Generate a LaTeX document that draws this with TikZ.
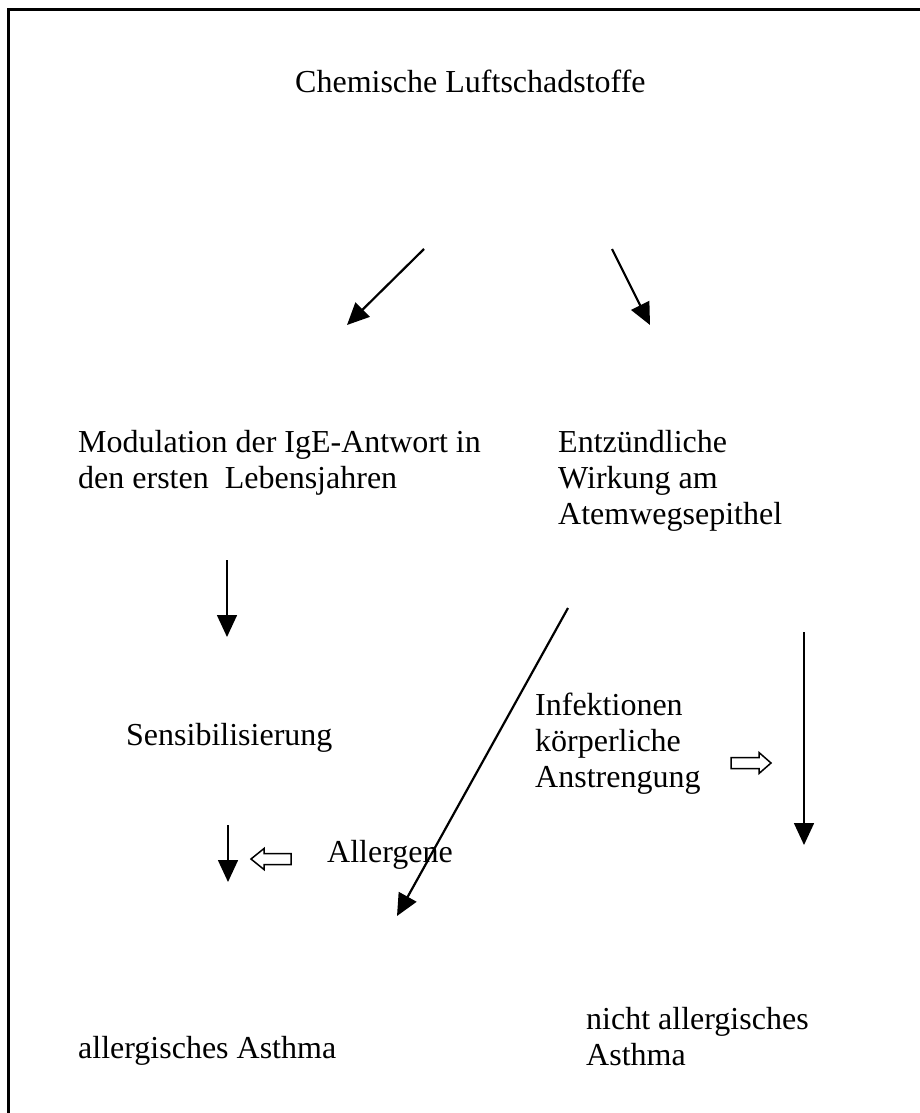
\documentclass[tikz,border=0pt]{standalone}
\usepackage{fontspec}
\setmainfont{Liberation Serif}
\usetikzlibrary{arrows.meta}
\begin{document}
\begin{tikzpicture}[x=1pt,y=-1pt,
  lbl/.style={anchor=base west,inner sep=0pt,font=\fontsize{32}{36}\selectfont},
  arr/.style={line width=2.2pt,-{Triangle[length=22pt,width=20pt]}},
  varr/.style={line width=1.6pt,-{Triangle[length=22pt,width=20pt]}},
  hollow/.style={draw,line width=1.5pt,fill=white}]
\useasboundingbox (0,0) rectangle (920,1113);
\fill[white] (0,0) rectangle (920,1113);
% frame (right and bottom edges outside the picture)
\draw[line width=2.5pt] (8.5,1120) -- (8.5,9.5) -- (930,9.5);
% texts
\node[lbl] (chem) at (295,93) {Chemische Luftschadstoffe};
\node[lbl] (mod1) at (78,452) {Modulation der IgE-Antwort in};
\node[lbl] (mod2) at (78,488) {den ersten\hspace{0.25em} Lebensjahren};
\node[lbl] (ent1) at (558,452) {Entzündliche};
\node[lbl] (ent2) at (558,488) {Wirkung am};
\node[lbl] (ent3) at (558,524) {Atemwegsepithel};
\node[lbl] (sens) at (126,745) {Sensibilisierung};
\node[lbl] (inf1) at (535,715) {Infektionen};
\node[lbl] (inf2) at (535,751) {körperliche};
\node[lbl] (inf3) at (535,787) {Anstrengung};
\node[lbl] (allg) at (327,862) {Allergene};
\node[lbl] (asth) at (78,1058) {allergisches Asthma};
\node[lbl] (nic1) at (586,1029) {nicht allergisches};
\node[lbl] (nic2) at (586,1065) {Asthma};
% arrow end points
\coordinate (a1s) at (424,249); \coordinate (a1e) at (347,325);
\coordinate (a2s) at (612,249); \coordinate (a2e) at (650,325);
\coordinate (a3s) at (227,560); \coordinate (a3e) at (227,637);
\coordinate (a4s) at (568,608); \coordinate (a4e) at (397,916);
\coordinate (a5s) at (804,632); \coordinate (a5e) at (804,845);
\coordinate (a6s) at (228,825); \coordinate (a6e) at (228,882);
% arrows
\draw[arr] (a1s) -- (a1e);
\draw[arr] (a2s) -- (a2e);
\draw[varr] (a3s) -- (a3e);
\draw[arr] (a4s) -- (a4e);
\draw[varr] (a5s) -- (a5e);
\draw[varr] (a6s) -- (a6e);
% hollow arrows
\draw[hollow] (731,757.5) -- (759,757.5) -- (759,752.5) -- (771,763) -- (759,773.5) -- (759,768.5) -- (731,768.5) -- cycle;
\draw[hollow] (251,859) -- (264,848.5) -- (264,853.5) -- (291,853.5) -- (291,864.5) -- (264,864.5) -- (264,869.5) -- cycle;
\end{tikzpicture}
\end{document}
